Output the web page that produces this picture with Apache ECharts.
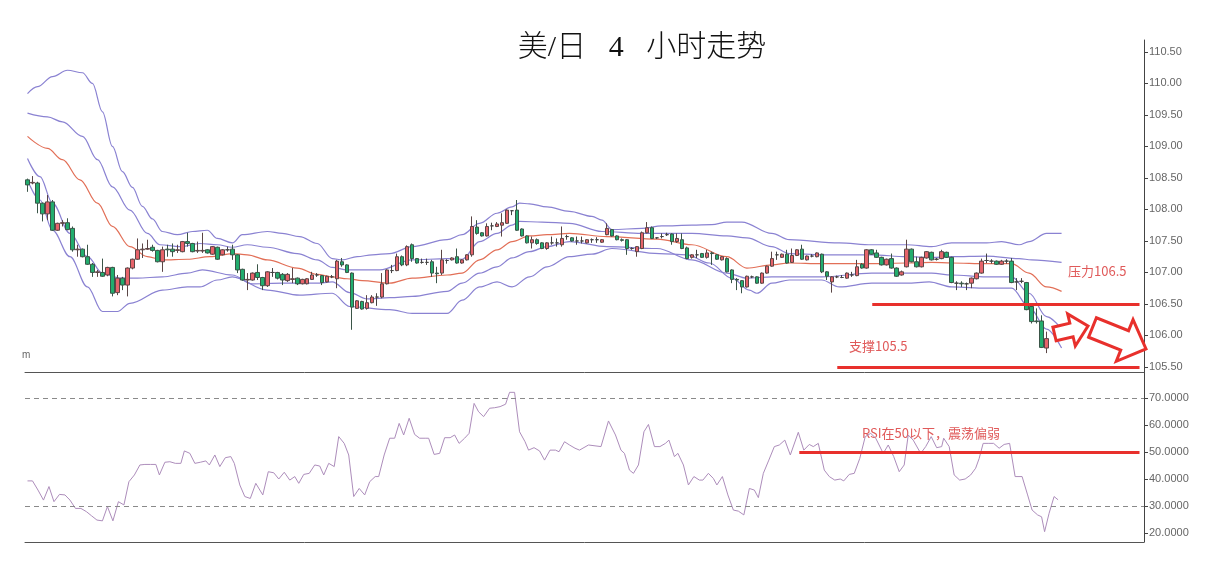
<!DOCTYPE html>
<html><head><meta charset="utf-8">
<style>html,body{margin:0;padding:0;background:#fff}#c{width:1211px;height:568px}</style>
<script src="https://cdn.jsdelivr.net/npm/echarts@6/dist/echarts.min.js"></script>
</head><body><div id="c"></div>
<script>
// ---------- data ----------
const chartTitle = '美/日   4   小时走势';
const priceTicks = [105.5, 106, 106.5, 107, 107.5, 108, 108.5, 109, 109.5, 110, 110.5];
const rsiTicks = [20, 30, 40, 50, 60, 70];
const rsiGuides = [30, 70];
const resistance = 106.5;
const support = 105.5;
const rsiLevel = 50;
const noteResistance = '压力106.5';
const noteSupport = '支撑105.5';
const noteRsi = 'RSI在50以下，震荡偏弱';

// [open, close, low, high]
const candles = [
[108.47,108.39,108.28,108.49],[108.42,108.43,108.40,108.53],[108.42,108.10,107.94,108.44],[108.10,107.93,107.81,108.11],
[107.93,108.12,107.83,108.23],[108.12,107.67,107.66,108.15],[107.67,107.78,107.66,107.79],[107.78,107.79,107.73,107.83],
[107.79,107.68,107.67,107.86],[107.70,107.36,107.33,107.73],[107.36,107.37,107.25,107.44],[107.37,107.25,107.24,107.38],
[107.25,107.13,107.12,107.44],[107.13,107.00,106.93,107.15],[107.00,107.01,106.93,107.04],[107.00,106.94,106.93,107.22],
[106.96,107.08,106.94,107.09],[107.08,106.67,106.62,107.09],[106.68,106.91,106.64,106.96],[106.91,106.80,106.72,106.93],
[106.80,107.07,106.62,107.08],[107.07,107.21,107.05,107.22],[107.21,107.36,107.20,107.54],[107.36,107.37,107.23,107.46],
[107.37,107.38,107.36,107.52],[107.40,107.35,107.33,107.44],[107.35,107.17,107.16,107.36],[107.17,107.36,107.01,107.41],
[107.37,107.36,107.25,107.44],[107.37,107.33,107.25,107.46],[107.35,107.36,107.31,107.44],[107.33,107.49,107.32,107.50],
[107.49,107.46,107.41,107.63],[107.46,107.33,107.32,107.47],[107.34,107.35,107.31,107.49],[107.34,107.35,107.31,107.63],
[107.36,107.31,107.30,107.37],[107.29,107.41,107.28,107.42],[107.40,107.21,107.20,107.41],[107.28,107.36,107.27,107.37],
[107.36,107.36,107.33,107.41],[107.37,107.28,107.20,107.44],[107.28,107.04,106.99,107.29],[107.05,106.88,106.87,107.06],
[106.88,106.89,106.72,106.99],[106.88,106.99,106.87,107.00],[107.00,106.92,106.88,107.13],[106.92,106.79,106.72,106.93],
[106.79,107.01,106.77,107.02],[107.00,107.00,106.93,107.07],[107.00,106.91,106.89,107.01],[106.97,106.88,106.80,106.99],
[106.87,106.97,106.85,106.99],[106.89,106.90,106.83,107.07],[106.91,106.82,106.80,106.92],[106.82,106.89,106.81,106.90],
[106.82,106.90,106.81,106.91],[106.89,106.96,106.88,107.01],[106.96,106.96,106.93,106.99],[106.95,106.84,106.80,106.96],
[106.85,106.94,106.84,106.95],[106.93,106.93,106.91,106.96],[106.90,107.18,106.75,107.20],[107.17,107.12,107.09,107.23],
[107.12,107.00,106.99,107.13],[106.99,106.45,106.09,107.00],[106.43,106.55,106.42,106.56],[106.54,106.42,106.41,106.55],
[106.43,106.52,106.41,106.64],[106.52,106.61,106.51,106.64],[106.61,106.61,106.47,106.67],[106.61,106.82,106.59,106.99],
[106.82,107.04,106.81,107.05],[107.03,107.03,106.99,107.12],[107.03,107.25,107.02,107.30],[107.25,107.12,107.10,107.27],
[107.12,107.41,107.10,107.43],[107.44,107.22,107.17,107.46],[107.22,107.15,107.14,107.23],[107.16,107.16,107.14,107.22],
[107.16,107.16,107.12,107.22],[107.17,106.99,106.93,107.20],[106.99,106.98,106.83,107.09],[106.99,107.20,106.96,107.36],
[107.19,107.19,107.14,107.21],[107.20,107.23,107.19,107.24],[107.25,107.15,107.14,107.38],[107.15,107.20,107.14,107.21],
[107.20,107.28,107.19,107.29],[107.28,107.73,107.25,107.89],[107.72,107.62,107.60,107.83],[107.63,107.58,107.57,107.64],
[107.58,107.73,107.57,107.78],[107.74,107.74,107.67,107.79],[107.73,107.77,107.72,107.80],[107.75,107.79,107.57,107.94],
[107.78,107.99,107.77,108.00],[107.98,107.98,107.91,107.99],[107.99,107.67,107.66,108.15],[107.69,107.58,107.57,107.70],
[107.58,107.47,107.46,107.59],[107.47,107.52,107.38,107.57],[107.52,107.46,107.44,107.54],[107.47,107.38,107.37,107.48],
[107.38,107.47,107.36,107.48],[107.47,107.47,107.44,107.57],[107.47,107.47,107.41,107.54],[107.44,107.54,107.41,107.73],
[107.57,107.57,107.52,107.60],[107.55,107.50,107.49,107.56],[107.50,107.50,107.44,107.57],[107.50,107.50,107.46,107.57],
[107.47,107.52,107.46,107.53],[107.52,107.52,107.47,107.54],[107.52,107.52,107.47,107.56],[107.48,107.52,107.47,107.53],
[107.60,107.70,107.59,107.78],[107.68,107.58,107.57,107.69],[107.58,107.52,107.51,107.59],[107.52,107.51,107.49,107.54],
[107.52,107.38,107.28,107.53],[107.38,107.38,107.36,107.40],[107.33,107.41,107.25,107.42],[107.38,107.63,107.37,107.65],
[107.63,107.71,107.62,107.80],[107.71,107.54,107.53,107.73],[107.55,107.55,107.53,107.56],[107.57,107.57,107.54,107.62],
[107.60,107.60,107.58,107.63],[107.61,107.49,107.44,107.62],[107.49,107.54,107.47,107.62],[107.52,107.38,107.37,107.62],
[107.39,107.22,107.21,107.41],[107.24,107.28,107.22,107.29],[107.28,107.28,107.23,107.36],[107.30,107.24,107.23,107.31],
[107.24,107.31,107.22,107.36],[107.31,107.30,107.12,107.33],[107.28,107.21,107.20,107.29],[107.20,107.25,107.19,107.26],
[107.22,107.01,107.00,107.24],[107.04,106.89,106.83,107.05],[106.89,106.88,106.72,106.91],[106.87,106.77,106.67,106.88],
[106.77,106.94,106.76,106.95],[106.93,106.93,106.91,106.95],[106.93,106.83,106.82,106.94],[106.83,106.99,106.82,107.00],
[106.99,107.10,106.98,107.11],[107.10,107.22,107.09,107.33],[107.28,107.28,107.20,107.33],[107.24,107.29,107.23,107.30],
[107.29,107.15,107.14,107.36],[107.16,107.27,107.15,107.38],[107.27,107.36,107.26,107.37],[107.37,107.21,107.20,107.44],
[107.20,107.26,107.19,107.27],[107.26,107.26,107.24,107.29],[107.25,107.31,107.24,107.32],[107.29,107.01,106.99,107.30],
[107.01,106.94,106.88,107.02],[106.85,106.93,106.68,106.94],[106.93,106.93,106.91,106.95],[106.92,106.92,106.91,106.96],
[106.91,106.99,106.90,107.00],[106.96,106.96,106.93,107.01],[106.95,107.09,106.94,107.20],[107.13,107.07,107.06,107.15],
[107.07,107.36,107.06,107.37],[107.36,107.29,107.28,107.37],[107.31,107.24,107.23,107.36],[107.24,107.12,107.11,107.25],
[107.12,107.21,107.11,107.22],[107.22,107.07,107.06,107.30],[107.07,106.94,106.93,107.08],[106.96,107.01,106.95,107.03],
[107.09,107.37,107.08,107.52],[107.37,107.17,107.16,107.38],[107.17,107.09,107.08,107.25],[107.09,107.24,107.08,107.25],
[107.23,107.33,107.22,107.34],[107.32,107.20,107.19,107.33],[107.21,107.21,107.19,107.23],[107.22,107.33,107.21,107.36],
[107.32,107.24,107.23,107.33],[107.24,106.84,106.83,107.25],[106.83,106.83,106.72,106.86],[106.83,106.82,106.77,106.86],
[106.82,106.82,106.72,106.84],[106.83,106.91,106.75,106.92],[106.90,106.99,106.89,107.00],[106.99,107.18,106.98,107.22],
[107.19,107.19,107.15,107.30],[107.18,107.18,107.14,107.21],[107.18,107.13,107.12,107.19],[107.13,107.18,107.12,107.20],
[107.18,107.18,107.14,107.21],[107.18,106.84,106.83,107.23],[106.85,106.85,106.72,106.91],[106.86,106.86,106.83,106.91],
[106.84,106.41,106.40,106.85],[106.46,106.22,106.19,106.47],[106.23,106.22,106.19,106.43],[106.23,105.81,105.80,106.32],
[105.80,105.95,105.72,106.06]
];

// Bollinger lines, read as [candle position, price]
const bandUpperOuter = [[0,109.84],[2,109.95],[5,110.11],[8,110.21],[11,110.17],[13,110.0],[15,109.55],[17,109.0],[19,108.6],[21,108.35],[23,108.05],[25,107.85],[27,107.65],[30,107.6],[33,107.65],[36,107.67],[38,107.54],[41,107.47],[43,107.6],[48,107.65],[51,107.62],[54.5,107.57],[58,107.46],[61,107.22],[63,107.2],[66,107.25],[69,107.28],[72.5,107.3],[77,107.41],[84,107.52],[87,107.6],[90.5,107.78],[94,107.94],[97,108.04],[98.5,108.1],[100.5,108.09],[104,108.04],[108.5,107.97],[113,107.89],[115,107.83],[117,107.68],[123,107.7],[127,107.74],[133,107.75],[137,107.76],[140,107.8],[143,107.8],[149,107.62],[152.5,107.52],[162.5,107.47],[169,107.44],[176,107.44],[181,107.41],[185,107.47],[192,107.47],[195,107.49],[198.5,107.44],[200.5,107.49],[204,107.62],[207,107.62]];
const bandUpperInner = [[0,109.53],[4,109.47],[7,109.39],[11,109.16],[14,108.79],[17,108.36],[20.5,107.99],[24,107.62],[26.5,107.44],[30.5,107.41],[34.5,107.46],[38,107.44],[41,107.4],[44,107.44],[48,107.4],[54,107.3],[58,107.2],[61,107.08],[64,107.04],[70.5,107.04],[77,107.2],[84,107.22],[87,107.21],[90.5,107.49],[94,107.62],[97,107.75],[98.5,107.81],[103,107.8],[108.5,107.78],[115,107.65],[123,107.62],[133,107.62],[140,107.58],[144,107.55],[149,107.41],[152.5,107.3],[159,107.28],[169,107.28],[176,107.25],[181,107.24],[185,107.25],[192,107.26],[198.5,107.22],[201,107.2],[207,107.16]];
const bandMiddle = [[0,109.16],[4,108.97],[7,108.79],[10.5,108.47],[14,108.1],[17,107.73],[20.5,107.41],[24,107.25],[27,107.2],[32,107.21],[36.5,107.25],[41,107.3],[44,107.28],[48,107.2],[54,107.07],[58,106.97],[61,106.93],[64,106.9],[67,106.87],[72.5,106.83],[77,106.91],[84,106.96],[87,106.99],[90.5,107.2],[94,107.36],[97,107.49],[100.5,107.58],[104,107.6],[108.5,107.62],[116,107.57],[126,107.53],[133,107.44],[140,107.25],[144,107.07],[149,107.12],[152.5,107.15],[159,107.14],[169,107.14],[176,107.15],[181,107.16],[185,107.15],[192,107.14],[197,107.14],[200.5,106.99],[204,106.77],[207,106.7]];
const bandLowerInner = [[0,108.81],[2.5,108.52],[5,108.1],[8.5,107.62],[12,107.25],[15,106.99],[18.5,106.91],[22,106.91],[27,106.93],[32,106.99],[35,107.04],[41,106.96],[45,106.82],[51,106.83],[58,106.83],[61,106.85],[64.5,106.68],[68,106.58],[72.5,106.6],[77,106.62],[84,106.7],[87,106.83],[90.5,106.99],[94,107.09],[97,107.23],[100.5,107.33],[104,107.41],[108.5,107.49],[116,107.41],[126,107.38],[133,107.2],[140,106.99],[144,106.91],[149,106.93],[159,106.93],[169,106.99],[176,106.99],[181,106.99],[185,106.96],[192,106.93],[197,106.93],[200.5,106.67],[204,106.3],[207,106.1]];
const bandLowerOuter = [[0,108.47],[2.5,108.15],[5,107.67],[8.5,107.25],[12,106.77],[15,106.38],[18,106.38],[20.5,106.51],[27,106.72],[32,106.77],[34.5,106.77],[38,106.88],[41,106.93],[48,106.72],[54.5,106.64],[61,106.67],[64.5,106.46],[72.5,106.41],[77,106.35],[84,106.35],[87,106.56],[90.5,106.77],[94,106.85],[97,106.77],[100.5,106.93],[104,107.09],[108.5,107.25],[113,107.29],[117,107.38],[126.5,107.3],[132,107.28],[136.5,107.15],[141,106.91],[144.5,106.72],[146,106.67],[149,106.83],[152.5,106.88],[159,106.88],[162.5,106.77],[169,106.83],[176,106.83],[180.5,106.85],[185,106.77],[192,106.75],[197,106.75],[200.5,106.45],[204,106.1],[207,105.8]];

// RSI, read as [candle position, value]
const rsi = [[0,39.3],[1.0,39.3],[2.1,35.9],[3.2,32.2],[4.3,37.2],[5.3,31.6],[6.4,34.3],[7.5,34.1],[8.5,32.2],[9.6,29.1],[10.7,29.1],[11.8,27.9],[12.8,26.4],[13.9,24.8],[15.0,24.5],[16.0,29.8],[17.1,24.5],[18.2,31.6],[19.3,30.4],[20.3,39.0],[21.4,41.5],[22.5,45.2],[23.5,45.4],[24.6,45.4],[25.7,45.4],[26.4,41.5],[27.5,46.2],[28.5,46.4],[29.6,45.8],[30.7,45.8],[31.4,50.4],[32.5,49.5],[33.5,45.8],[34.6,46.2],[35.7,46.7],[36.4,45.2],[37.5,48.9],[38.5,44.6],[39.6,47.9],[40.7,48.3],[41.4,45.8],[42.5,37.8],[43.5,33.5],[44.6,32.8],[45.7,38.4],[47.1,34.1],[48.2,42.7],[49.3,42.3],[50.3,40.0],[51.4,42.5],[52.5,39.6],[53.5,40.9],[54.3,38.4],[55.3,41.7],[56.4,42.1],[57.5,45.2],[58.5,44.8],[59.3,41.5],[60.3,45.8],[61.4,44.6],[62.3,55.7],[63.4,53.2],[64.3,48.9],[65.3,33.5],[66.4,36.5],[67.5,34.1],[68.5,39.0],[69.6,40.9],[70.3,40.9],[71.4,48.9],[72.5,55.1],[73.5,55.1],[74.4,60.6],[75.3,56.3],[76.4,62.5],[77.5,56.5],[78.5,55.1],[79.6,55.1],[80.3,55.1],[81.4,49.1],[82.5,49.5],[83.5,55.3],[84.6,55.3],[85.5,56.3],[86.4,53.2],[87.5,55.1],[88.4,56.9],[89.4,68.0],[90.3,64.9],[91.3,63.1],[92.5,66.2],[93.5,66.4],[94.6,66.8],[95.7,67.7],[96.5,72.1],[97.5,72.1],[98.5,57.5],[99.6,53.8],[100.3,50.7],[101.4,51.6],[102.5,50.4],[103.5,47.0],[104.6,50.7],[105.7,50.7],[106.4,50.1],[107.5,53.8],[108.5,52.6],[109.6,51.4],
[110.5,50.7],[112.3,52.6],[114.8,52.0],[116.3,61.5],[117.7,56.3],[118.8,50.7],[119.5,49.5],[120.5,43.3],[121.3,42.1],[122.3,45.2],[123.4,57.5],[124.3,60.2],[125.5,52.0],[126.6,52.0],[127.7,53.2],[128.4,54.4],[129.5,48.3],[130.2,49.5],[131.3,45.2],[132.3,37.8],[133.4,40.9],[134.5,39.6],[135.2,39.6],[136.3,42.1],[137.3,40.2],[138.0,37.8],[139.1,40.9],[140.2,34.1],[141.3,28.5],[142.3,28.1],[143.4,26.7],[144.5,36.5],[145.5,35.9],[146.3,33.1],[147.3,42.1],[148.4,47.0],[149.5,52.0],[150.5,52.6],[151.6,54.4],[152.7,48.9],[154.3,57.3],[155.4,50.7],[156.5,52.8],[157.3,52.0],[158.3,53.2],[159.5,43.3],[160.5,40.9],[161.6,39.6],[162.7,40.0],[163.4,39.3],[164.5,41.7],[165.5,42.1],[166.6,47.6],[167.7,55.7],[168.8,56.9],[169.8,55.1],[171.3,49.5],[172.3,52.6],[173.4,48.3],[174.5,42.7],[175.5,45.2],[176.3,56.3],[177.3,54.4],[178.8,49.5],[179.8,52.0],[180.9,55.7],[182.0,51.6],[183.0,52.0],[183.4,55.1],[184.5,52.0],[185.5,41.5],[186.6,39.6],[187.7,40.0],[188.8,41.5],[189.8,44.0],[190.5,47.6],[191.3,53.2],[192.3,53.2],[193.4,53.2],[194.5,51.4],[195.5,52.8],[196.6,53.2],[197.7,40.9],[199.1,40.9],[200.2,34.1],[201.1,28.5],[202.2,26.7],[203.0,26.0],[203.6,20.5],[204.5,27.3],[205.5,33.5],[206.3,32.3]];

// ---------- chart ----------
const SLOTS = 224;
const categories = Array.from({length: SLOTS}, (_, i) => String(i));
const RED = '#e8302c';
const NOTE = '#e05a5a';
const PURPLE = '#8a82d2';

function blockArrow(tx, ty, px, py, headLen, headHalf, bodyHalf) {
  const dx = px - tx, dy = py - ty, L = Math.hypot(dx, dy);
  const ux = dx / L, uy = dy / L, nx = -uy, ny = ux;
  const bx = px - ux * headLen, by = py - uy * headLen;
  return [
    [tx + nx * bodyHalf, ty + ny * bodyHalf],
    [bx + nx * bodyHalf, by + ny * bodyHalf],
    [bx + nx * headHalf, by + ny * headHalf],
    [px, py],
    [bx - nx * headHalf, by - ny * headHalf],
    [bx - nx * bodyHalf, by - ny * bodyHalf],
    [tx - nx * bodyHalf, ty - ny * bodyHalf]
  ];
}

const chart = echarts.init(document.getElementById('c'), null, {renderer: 'canvas'});
const bandLine = (name, data, color) => ({
  name, type: 'line', xAxisIndex: 1, yAxisIndex: 0, data,
  smooth: 0.35, smoothMonotone: 'x', showSymbol: false, symbol: 'none', silent: true,
  lineStyle: {color, width: 1.2}, z: 2
});

const option = {
  animation: false,
  backgroundColor: '#fff',
  grid: [
    {left: 25, right: 67, top: 40, height: 332},
    {left: 25, right: 67, top: 372, height: 170}
  ],
  xAxis: [
    {type: 'category', gridIndex: 0, data: categories, boundaryGap: true,
     axisLine: {show: true, onZero: false, lineStyle: {color: '#555', width: 1}},
     axisTick: {show: false}, axisLabel: {show: false}, splitLine: {show: false}},
    {type: 'value', gridIndex: 0, min: -0.5, max: SLOTS - 0.5, show: false},
    {type: 'value', gridIndex: 1, min: -0.5, max: SLOTS - 0.5,
     axisLine: {show: true, onZero: false, lineStyle: {color: '#555', width: 1}},
     axisTick: {show: false}, axisLabel: {show: false}, splitLine: {show: false}}
  ],
  yAxis: [
    {type: 'value', gridIndex: 0, position: 'right', min: 105.42, max: 110.69,
     axisLine: {show: true, onZero: false, lineStyle: {color: '#444'}},
     axisTick: {show: true, customValues: priceTicks, length: 4, lineStyle: {color: '#444'}},
     axisLabel: {customValues: priceTicks, formatter: v => v.toFixed(2), color: '#666', fontSize: 11,
                 fontFamily: 'Liberation Sans, Arial', margin: 5},
     splitLine: {show: false}},
    {type: 'value', gridIndex: 1, position: 'right', min: 16.67, max: 79.63,
     axisLine: {show: true, onZero: false, lineStyle: {color: '#444'}},
     axisTick: {show: true, customValues: rsiTicks, length: 4, lineStyle: {color: '#444'}},
     axisLabel: {customValues: rsiTicks, formatter: v => v.toFixed(4), color: '#666', fontSize: 11,
                 fontFamily: 'Liberation Sans, Arial', margin: 5},
     splitLine: {show: false}}
  ],
  series: [
    bandLine('upper2', bandUpperOuter, PURPLE),
    bandLine('upper1', bandUpperInner, PURPLE),
    bandLine('mid', bandMiddle, '#e26f57'),
    bandLine('lower1', bandLowerInner, PURPLE),
    Object.assign(bandLine('lower2', bandLowerOuter, PURPLE), {
      markLine: {
        silent: true, symbol: 'none', label: {show: false},
        lineStyle: {color: RED, width: 3, type: 'solid'},
        data: [
          [{coord: [169.1, resistance]}, {coord: [222.6, resistance]}],
          [{coord: [162.1, support]}, {coord: [222.6, support]}]
        ]
      }
    }),
    {
      name: 'k', type: 'candlestick', xAxisIndex: 0, yAxisIndex: 0, data: candles,
      barWidth: 4, z: 3,
      itemStyle: {color: '#e6636a', color0: '#22ad6e', borderColor: '#5b4646', borderColor0: '#3b5548',
                  borderColorDoji: '#444', borderWidth: 1}
    },
    {
      name: 'rsi', type: 'line', xAxisIndex: 2, yAxisIndex: 1, data: rsi,
      showSymbol: false, symbol: 'none', silent: true,
      lineStyle: {color: '#ad8dbb', width: 1},
      markLine: {
        silent: true, symbol: 'none', label: {show: false},
        data: [
          ...rsiGuides.map(v => ({yAxis: v, lineStyle: {color: '#8a8a8a', width: 1, type: [5, 4]}})),
          [{coord: [154.5, rsiLevel], lineStyle: {color: RED, width: 3, type: 'solid'}}, {coord: [222.6, rsiLevel]}]
        ]
      }
    }
  ],
  graphic: [
    {type: 'text', x: 642, y: 48, silent: true,
     style: {text: chartTitle, fill: '#111', font: '300 30px "Liberation Serif", "Noto Sans CJK SC"',
             textAlign: 'center', textVerticalAlign: 'middle'}},
    {type: 'text', x: 22, y: 355, silent: true,
     style: {text: 'm', fill: '#666', font: '10px "Liberation Sans"', textVerticalAlign: 'middle'}},
    {type: 'text', x: 1068, y: 271, silent: true,
     style: {text: noteResistance, fill: NOTE, font: '13px "Noto Sans CJK SC"', textVerticalAlign: 'middle'}},
    {type: 'text', x: 849, y: 346, silent: true,
     style: {text: noteSupport, fill: NOTE, font: '13px "Noto Sans CJK SC"', textVerticalAlign: 'middle'}},
    {type: 'text', x: 862, y: 433, silent: true,
     style: {text: noteRsi, fill: NOTE, font: '13px "Noto Sans CJK SC"', textVerticalAlign: 'middle'}},
    {type: 'polygon', silent: true, z: 100,
     shape: {points: blockArrow(1054.5, 334, 1088, 326, 17, 16.5, 7)},
     style: {fill: '#fff', stroke: RED, lineWidth: 3, lineJoin: 'miter'}},
    {type: 'polygon', silent: true, z: 100,
     shape: {points: blockArrow(1092.5, 327.5, 1146, 349, 23, 22.5, 10.5)},
     style: {fill: '#fff', stroke: RED, lineWidth: 3, lineJoin: 'miter'}}
  ]
};
chart.setOption(option);
</script>
</body></html>
